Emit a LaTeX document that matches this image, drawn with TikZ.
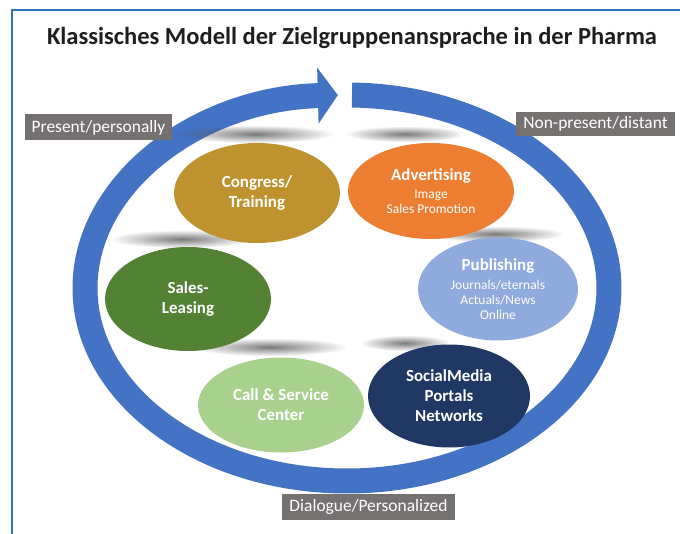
\documentclass[tikz,border=0pt]{standalone}
\usepackage{fontspec}
\setmainfont{Carlito}
\usepackage{xcolor}
\usepackage{tikz}
\usetikzlibrary{shapes.geometric}
\usetikzlibrary{arrows.meta}
\usetikzlibrary{fadings}

\definecolor{ringblue}{HTML}{4472C4}
\definecolor{frameblue}{HTML}{2E75B6}
\definecolor{taggray}{HTML}{767171}
\definecolor{titleink}{HTML}{1E1E1E}
\definecolor{congress}{HTML}{BF9230}
\definecolor{advert}{HTML}{ED7D31}
\definecolor{publish}{HTML}{8FAADC}
\definecolor{sales}{HTML}{548235}
\definecolor{callcenter}{HTML}{A9D18E}
\definecolor{social}{HTML}{1F3864}

\tikzfading[name=haze, inner color=transparent!20, outer color=transparent!100]
\newcommand{\subtxt}[1]{{\fontsize{13.5}{15}\selectfont\mdseries #1}}

\begin{document}
\begin{tikzpicture}[
  x=1bp, y=-1bp,
  blob/.style={ellipse, inner sep=0pt, minimum width=166bp, minimum height=100bp,
    text=white, align=center, font=\fontsize{17}{20}\selectfont\bfseries},
  tag/.style={fill=taggray, text=white, inner sep=0pt, minimum height=26bp,
    font=\fontsize{17.5}{20}\selectfont},
  haze bar/.style={fill=black!65, path fading=haze},
  ring/.style={ringblue, line width=25bp, -{Triangle[length=20bp, width=55bp]}}
]
\useasboundingbox (0,0) rectangle (680,534);

% frame
\draw[frameblue, line width=1.2bp] (12,534) -- (12,10) -- (680,10);

\node[font=\fontsize{24.6}{28}\selectfont\bfseries, text=titleink] (title) at (352,38)
  {Klassisches Modell der Zielgruppenansprache in der Pharma};

% the big cycle
\draw[ring] (347,288) ++(-88.9:262 and 193)
  arc[start angle=-88.9, end angle=268, x radius=262, y radius=193];

% soft shadows behind the ellipses
\fill[haze bar] (255,134) ellipse (80 and 9);
\fill[haze bar] (405,134) ellipse (60 and 8);
\fill[haze bar] (182,239) ellipse (72 and 9);
\fill[haze bar] (495,234) ellipse (70 and 8);
\fill[haze bar] (270,347) ellipse (78 and 9);
\fill[haze bar] (405,343) ellipse (45 and 8);

% channels
\node[blob, fill=congress] (congress) at (257,193) {Congress/\\Training};
\node[blob, fill=advert, minimum height=96bp] (advert) at (431,191)
  {Advertising\\[-1.5pt]\subtxt{Image}\\[-5pt]\subtxt{Sales Promotion}};
\node[blob, fill=publish, minimum width=160bp, minimum height=103bp] (publish) at (498,289)
  {Publishing\\[-1.5pt]\subtxt{Journals/eternals}\\[-5pt]\subtxt{Actuals/News}\\[-5pt]\subtxt{Online}};
\node[blob, fill=sales, minimum height=104bp] (sales) at (188,299) {Sales-\\Leasing};
\node[blob, fill=callcenter, minimum height=95bp] (call) at (281,405) {Call \& Service\\Center};
\node[blob, fill=social, minimum width=162bp, minimum height=103bp] (social) at (449,396)
  {SocialMedia\\Portals\\Networks};

% grey tags
\node[tag, minimum width=147bp] (present) at (98.5,127.5) {Present/personally};
\node[tag, minimum width=159bp, minimum height=24bp] (distant) at (595.5,124) {Non-present/distant};
\node[tag, minimum width=173bp] (dialogue) at (368.5,506.5) {Dialogue/Personalized};
\end{tikzpicture}
\end{document}
